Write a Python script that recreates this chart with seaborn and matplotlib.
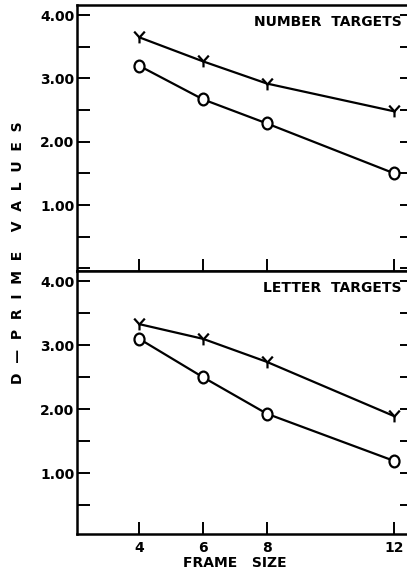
import numpy as np
import pandas as pd
import matplotlib
matplotlib.use("Agg")
import matplotlib.pyplot as plt
from matplotlib.path import Path
from matplotlib.transforms import Affine2D
from matplotlib.ticker import MultipleLocator, FixedLocator, FuncFormatter
import seaborn as sns

# Frame sizes on the x axis
frame_size = [4, 6, 8, 12]

# d' values, number targets
number_y = [3.65, 3.27, 2.92, 2.48]
number_o = [3.20, 2.67, 2.29, 1.50]

# d' values, letter targets
letter_y = [3.33, 3.10, 2.74, 1.89]
letter_o = [3.10, 2.50, 1.93, 1.19]

panel_titles = ["NUMBER  TARGETS", "LETTER  TARGETS"]
series_names = ["Y", "O"]
y_ticks = [1.0, 2.0, 3.0, 4.0]

sns.set_style("white")
plt.rcParams["font.family"] = ["DejaVu Sans"]
plt.rcParams["text.color"] = "black"
plt.rcParams["xtick.color"] = "black"
plt.rcParams["ytick.color"] = "black"
plt.rcParams["axes.labelcolor"] = "black"

FS = 10
FW = "bold"

# Letter-shaped markers: an upright "Y" stroke path and an oval "O"
y_marker = Path(
    [(-0.45, 0.5), (0.0, 0.0), (0.45, 0.5), (0.0, 0.0), (0.0, -0.5)],
    [Path.MOVETO, Path.LINETO, Path.LINETO, Path.MOVETO, Path.LINETO],
)
o_marker = Path.unit_circle().transformed(Affine2D().scale(0.85, 1.0))


def make_frame(y_vals, o_vals):
    return pd.DataFrame({
        "frame": frame_size * 2,
        "dprime": list(y_vals) + list(o_vals),
        "series": [series_names[0]] * len(frame_size) + [series_names[1]] * len(frame_size),
    })


fig = plt.figure(figsize=(4.07, 5.76), dpi=100)
left, right = 77 / 407, 412 / 407
ax_top = fig.add_axes([left, 1 - 271 / 576, right - left, (271 - 5) / 576])
ax_bot = fig.add_axes([left, 1 - 534 / 576, right - left, (534 - 271) / 576])

panels = [
    (ax_top, make_frame(number_y, number_o), panel_titles[0], (-0.04, 4.16)),
    (ax_bot, make_frame(letter_y, letter_o), panel_titles[1], (0.05, 4.16)),
]

for ax, df, title, ylim in panels:
    sns.lineplot(
        data=df, x="frame", y="dprime", hue="series", style="series",
        palette={"Y": "black", "O": "black"},
        markers={"Y": y_marker, "O": o_marker},
        dashes=False, markersize=8.5, linewidth=1.6, ax=ax, legend=False,
        markeredgewidth=1.6,
    )
    for line in ax.get_lines():
        line.set_markerfacecolor("white")
        line.set_markeredgecolor("black")
    ax.set_xlim(2.05, 12.55)
    ax.set_ylim(*ylim)
    ax.xaxis.set_major_locator(FixedLocator(frame_size))
    ax.yaxis.set_major_locator(FixedLocator(y_ticks))
    ax.yaxis.set_minor_locator(MultipleLocator(0.5))
    ax.yaxis.set_major_formatter(FuncFormatter(lambda v, p: f"{v:.2f}"))
    ax.tick_params(axis="both", which="both", direction="in", length=9,
                   width=1.4, color="black", labelsize=FS, pad=2,
                   labelcolor="black",
                   right=True, left=True, bottom=True, top=False)
    ax.tick_params(axis="x", pad=5)
    for lab in ax.get_xticklabels() + ax.get_yticklabels():
        lab.set_fontweight(FW)
    for s in ax.spines.values():
        s.set_visible(True)
        s.set_linewidth(1.8)
        s.set_color("black")
    ax.set_xlabel("")
    ax.set_ylabel("")
    ax.text(0.97, 0.962, title, transform=ax.transAxes, ha="right", va="top",
            fontsize=FS, fontweight=FW)

ax_top.tick_params(axis="x", labelbottom=False)
ax_bot.set_xlabel("FRAME   SIZE", fontsize=FS, fontweight=FW)
ax_bot.xaxis.set_label_coords(0.47, -0.085)

fig.text(18 / 407, 1 - 253 / 576, "D  —  P  R  I  M  E    V  A  L  U  E  S",
         rotation=90, ha="center", va="center", fontsize=FS, fontweight=FW)

fig.savefig("out.png", dpi=100)
